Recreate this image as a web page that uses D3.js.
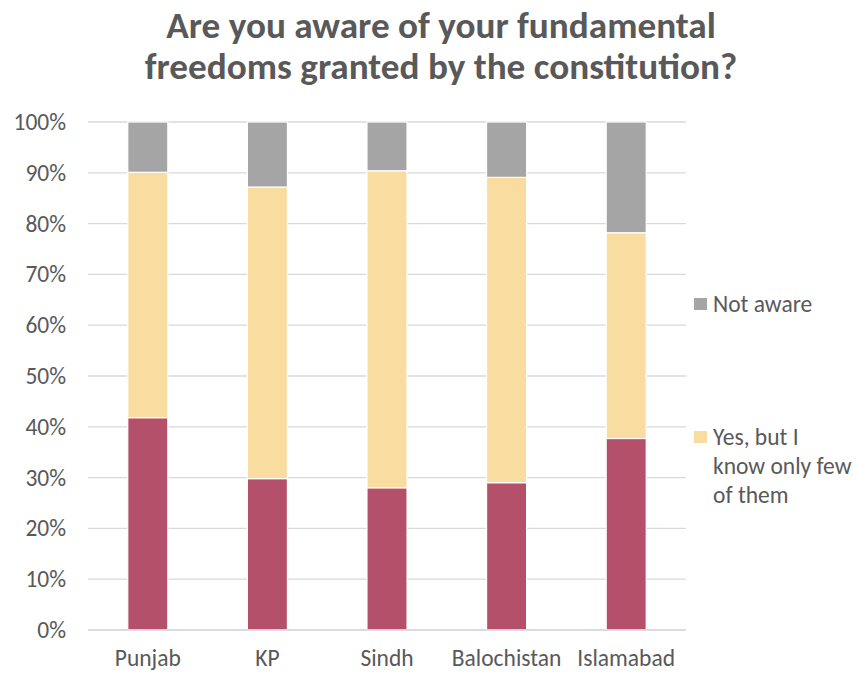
<!DOCTYPE html>
<html>
<head>
<meta charset="utf-8">
<script src="https://cdn.jsdelivr.net/npm/d3@7"></script>
<style>
  html, body { margin: 0; padding: 0; background: #fff; }
  svg { display: block; }
  text { font-family: Carlito, Calibri, Lato, "Open Sans", sans-serif; fill: #595959; }
</style>
</head>
<body>
<svg id="chart" width="858" height="673"></svg>
<script>
// Survey regions
const regions = ["Punjab", "KP", "Sindh", "Balochistan", "Islamabad"];

// Share of respondents (%) per answer, stacked bottom to top
const fullyAware = [41.8, 29.8, 28.0, 29.0, 37.7];
const knowFew    = [48.3, 57.4, 62.4, 60.1, 40.5];
const notAware   = [9.9, 12.8, 9.6, 10.9, 21.8];

const seriesNames  = ["Yes, I know all of them", "Yes, but I know only few of them", "Not aware"];
const seriesColors = ["#B5506A", "#F9DDA0", "#A5A5A5"];

const yTicks = [0, 10, 20, 30, 40, 50, 60, 70, 80, 90, 100];
const titleLines = ["Are you aware of your fundamental", "freedoms granted by the constitution?"];

// Legend shows the two upper series
const legendItems = [
  { name: "Not aware", lines: ["Not aware"], color: seriesColors[2] },
  { name: "Yes, but I know only few of them", lines: ["Yes, but I", "know only few", "of them"], color: seriesColors[1] }
];

const rows = regions.map((r, i) => ({
  region: r,
  s0: fullyAware[i],
  s1: knowFew[i],
  s2: notAware[i]
}));

const svg = d3.select("#chart");
const margin = { left: 88, right: 172, top: 122, bottom: 43 };
const W = 858, H = 673;
const labelSize = 23.5;

const x = d3.scaleBand()
  .domain(regions)
  .range([margin.left, W - margin.right])
  .paddingInner(0.665)
  .paddingOuter(0.3325);

const y = d3.scaleLinear()
  .domain([0, 100])
  .range([H - margin.bottom, margin.top]);

// Gridlines
svg.append("g")
  .selectAll("line")
  .data(yTicks)
  .join("line")
  .attr("x1", margin.left)
  .attr("x2", W - margin.right)
  .attr("y1", d => y(d))
  .attr("y2", d => y(d))
  .attr("stroke", "#D9D9D9")
  .attr("stroke-width", 1.3);

// Y axis labels
const yAxis = d3.axisLeft(y)
  .tickValues(yTicks)
  .tickFormat(d => d + "%")
  .tickSize(0)
  .tickPadding(22);
const gy = svg.append("g")
  .attr("transform", `translate(${margin.left},0)`)
  .call(yAxis);
gy.select(".domain").remove();
gy.selectAll("text")
  .attr("font-size", labelSize)
  .attr("fill", "#595959")
  .style("font-family", "Carlito, Calibri, Lato, sans-serif");

// X axis labels
const xAxis = d3.axisBottom(x).tickSize(0).tickPadding(19);
const gx = svg.append("g")
  .attr("transform", `translate(0,${y(0)})`)
  .call(xAxis);
gx.select(".domain").remove();
gx.selectAll("text")
  .attr("font-size", labelSize)
  .attr("fill", "#595959")
  .style("font-family", "Carlito, Calibri, Lato, sans-serif");

// Stacked bars
const stack = d3.stack().keys(["s0", "s1", "s2"]);
const layers = stack(rows);

svg.append("g")
  .selectAll("g")
  .data(layers)
  .join("g")
  .attr("fill", (d, i) => seriesColors[i])
  .selectAll("rect")
  .data(d => d)
  .join("rect")
  .attr("x", d => x(d.data.region))
  .attr("width", x.bandwidth())
  .attr("y", d => y(d[1]))
  .attr("height", d => y(d[0]) - y(d[1]))
  .attr("stroke", "#ffffff")
  .attr("stroke-width", 1.2);

// Baseline
svg.append("line")
  .attr("x1", margin.left)
  .attr("x2", W - margin.right)
  .attr("y1", y(0))
  .attr("y2", y(0))
  .attr("stroke", "#D9D9D9")
  .attr("stroke-width", 1.3);

// Title
const title = svg.append("text")
  .attr("text-anchor", "middle")
  .attr("font-weight", "bold")
  .attr("font-size", 30)
  .attr("fill", "#595959");
title.selectAll("tspan")
  .data(titleLines)
  .join("tspan")
  .attr("x", 441)
  .attr("y", (d, i) => 38 + i * 41)
  .text(d => d);
// Fit the first line to its intended width
const firstLen = title.select("tspan").node().getComputedTextLength();
title.attr("font-size", 30 * 550 / firstLen);

// Legend
const legendTop = [298, 431];
const lg = svg.append("g");
legendItems.forEach((item, i) => {
  const g = lg.append("g");
  g.append("rect")
    .attr("x", 694)
    .attr("y", legendTop[i])
    .attr("width", 13)
    .attr("height", 12)
    .attr("fill", item.color);
  g.append("text")
    .attr("font-size", labelSize)
    .selectAll("tspan")
    .data(item.lines)
    .join("tspan")
    .attr("x", 713)
    .attr("y", (d, j) => legendTop[i] + 14 + j * 29)
    .text(d => d);
});
</script>
</body>
</html>
